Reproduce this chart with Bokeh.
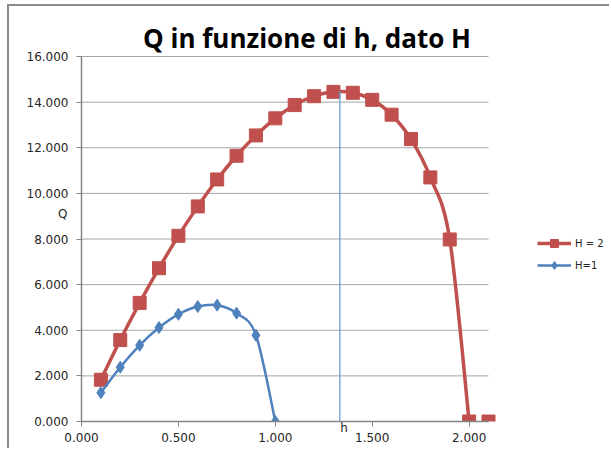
from bokeh.plotting import figure
from bokeh.models import (Range1d, FixedTicker, NumeralTickFormatter, Label,
                          Legend, LegendItem)
from bokeh.embed import file_html
from bokeh.resources import INLINE

# Discharge Q as a function of h for two heads H
h_H2 = [0.1, 0.2, 0.3, 0.4, 0.5, 0.6, 0.7, 0.8, 0.9, 1.0, 1.1,
        1.2, 1.3, 1.4, 1.5, 1.6, 1.7, 1.8, 1.9, 2.0, 2.1]
q_H2 = [1.83, 3.57, 5.20, 6.72, 8.14, 9.43, 10.61, 11.65, 12.54, 13.29, 13.87,
        14.26, 14.45, 14.41, 14.10, 13.45, 12.38, 10.70, 7.98, 0.0, 0.0]
H2 = 2.0

h_H1 = [0.1, 0.2, 0.3, 0.4, 0.5, 0.6, 0.7, 0.8, 0.9, 1.0]
q_H1 = [1.26, 2.38, 3.34, 4.12, 4.70, 5.04, 5.10, 4.75, 3.78, 0.0]
H1 = 1.0

# position of the maximum of the H = 2 curve
peak_h = 1.333
peak_q = 14.5

x_ticks = [0.0, 0.5, 1.0, 1.5, 2.0]
y_ticks = [0, 2, 4, 6, 8, 10, 12, 14, 16]
X_MAX, Y_MAX = 2.1, 16

RED = "#C0504D"
BLUE = "#4F81BD"
GRID = "#A6A6A6"
AXIS = "#868686"
TEXT = "#262626"

# canvas layout (px): the frame also hosts the title and legend,
# the axes only cover the [0, X_MAX] x [0, Y_MAX] part of it
FIG_W, FIG_H = 602, 444
PAD_L, PAD_T, PAD_B, PAD_R = 72, 0, 29, 5
AXES_W, AXES_H = 407, 365
frame_w = FIG_W - PAD_L - PAD_R
frame_h = FIG_H - PAD_T - PAD_B
x_end = X_MAX * frame_w / AXES_W
y_end = Y_MAX * frame_h / AXES_H


def smooth(xs, ys):
    """Cubic Bezier pieces through consecutive points (smoothed line)."""
    n = len(xs)
    seg = dict(x0=[], y0=[], x1=[], y1=[], cx0=[], cy0=[], cx1=[], cy1=[])
    for i in range(n - 1):
        a = i - 1 if i > 0 else i
        d = i + 2 if i + 2 < n else i + 1
        seg["x0"].append(xs[i]); seg["y0"].append(ys[i])
        seg["x1"].append(xs[i + 1]); seg["y1"].append(ys[i + 1])
        seg["cx0"].append(xs[i] + (xs[i + 1] - xs[a]) / 6)
        seg["cy0"].append(ys[i] + (ys[i + 1] - ys[a]) / 6)
        seg["cx1"].append(xs[i + 1] - (xs[d] - xs[i]) / 6)
        seg["cy1"].append(ys[i + 1] - (ys[d] - ys[i]) / 6)
    return seg


p = figure(width=FIG_W, height=FIG_H, output_backend="svg", toolbar_location=None,
           x_range=Range1d(0, x_end), y_range=Range1d(0, y_end),
           min_border_left=PAD_L, min_border_top=PAD_T, min_border_bottom=PAD_B,
           min_border_right=PAD_R, margin=(4, 0, 0, 7),
           styles={"border-left": "2px solid #8C8C8C",
                   "border-top": "2px solid #8C8C8C"})
p.outline_line_color = None
p.background_fill_color = "white"
p.border_fill_color = "white"
p.xgrid.visible = False
p.ygrid.visible = False

for ax in (p.xaxis[0], p.yaxis[0]):
    ax.axis_line_color = AXIS
    ax.axis_line_width = 1.5
    ax.major_tick_line_color = AXIS
    ax.major_tick_out = 5
    ax.major_tick_in = 0
    ax.minor_tick_line_color = None
    ax.major_label_text_font = "DejaVu Sans"
    ax.major_label_text_font_size = "12px"
    ax.major_label_text_color = TEXT
    ax.formatter = NumeralTickFormatter(format="0.000")
    ax.axis_label_text_font = "DejaVu Sans"
    ax.axis_label_text_font_size = "12px"
    ax.axis_label_text_font_style = "normal"
    ax.axis_label_text_color = TEXT

p.xaxis.ticker = FixedTicker(ticks=x_ticks)
p.yaxis.ticker = FixedTicker(ticks=y_ticks)
p.xaxis.bounds = (0, X_MAX)
p.yaxis.bounds = (0, Y_MAX)
p.yaxis.major_label_standoff = 8
p.xaxis.major_label_standoff = 6

p.yaxis.axis_label = "Q"
p.yaxis.axis_label_orientation = "horizontal"
p.yaxis.axis_label_standoff = -44
p.xaxis.axis_label = "h"
p.xaxis.axis_label_standoff = -24

# horizontal gridlines over the axes area
p.segment(x0=0, x1=X_MAX, y0=y_ticks[1:], y1=y_ticks[1:],
          line_color=GRID, line_width=1)

# H = 2 curve (line up to h = H, markers everywhere)
n2 = sum(1 for h in h_H2 if h <= H2)
p.bezier(source=smooth(h_H2[:n2], q_H2[:n2]), x0="x0", y0="y0", x1="x1", y1="y1",
         cx0="cx0", cy0="cy0", cx1="cx1", cy1="cy1",
         line_color=RED, line_width=3.5)
r2_sc = p.scatter(h_H2, q_H2, marker="square", size=13, fill_color=RED,
                  line_color=RED)

# H = 1 curve
n1 = sum(1 for h in h_H1 if h <= H1)
p.bezier(source=smooth(h_H1[:n1], q_H1[:n1]), x0="x0", y0="y0", x1="x1", y1="y1",
         cx0="cx0", cy0="cy0", cx1="cx1", cy1="cy1",
         line_color=BLUE, line_width=2.5)
r1_sc = p.scatter(h_H1, q_H1, marker="diamond", size=12, fill_color=BLUE,
                  line_color=BLUE)

# vertical marker at the maximum
p.segment(x0=[peak_h], y0=[0], x1=[peak_h], y1=[peak_q],
          line_color="#5B9BD5", line_width=1.2)

# legend line samples (renderers with no drawable points)
nan = float("nan")
r2_ln = p.line([nan, nan], [nan, nan], line_color=RED, line_width=3.5)
r1_ln = p.line([nan, nan], [nan, nan], line_color=BLUE, line_width=2.5)
legend = Legend(items=[LegendItem(label="H = 2", renderers=[r2_ln, r2_sc]),
                       LegendItem(label="H=1", renderers=[r1_ln, r1_sc])],
                location=(456, 146), padding=0, margin=0, spacing=2,
                glyph_width=34, glyph_height=20, label_standoff=4,
                label_text_font="DejaVu Sans", label_text_font_size="10px",
                label_text_color=TEXT, border_line_color=None,
                background_fill_alpha=0)
p.add_layout(legend, "center")

p.add_layout(Label(x=1.1635, y=16.79, text="Q in funzione di h, dato H",
                   text_align="center", text_baseline="alphabetic",
                   text_font="Open Sans", text_font_style="bold",
                   text_font_size="26px", text_color="black"))

open("out.html", "w").write(file_html(p, INLINE))
